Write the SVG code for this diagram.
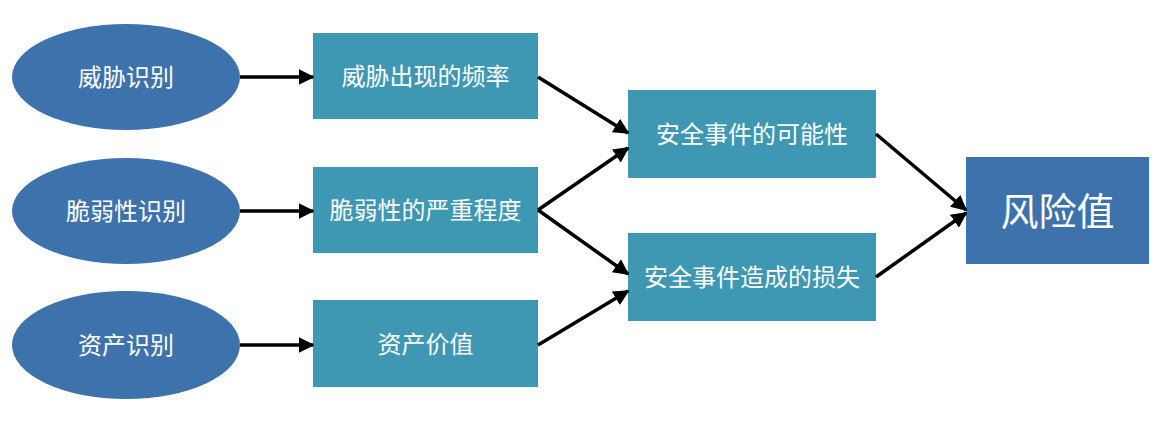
<svg xmlns="http://www.w3.org/2000/svg" width="1170" height="421" viewBox="0 0 1170 421">
<style>
.ell{fill:#3d72ad}
.box{fill:#3e98b3}
.fin{fill:#3d72ad}
.t{fill:#fff;font-family:"Noto Sans CJK SC","Liberation Sans",sans-serif;font-size:24px;text-anchor:middle;dominant-baseline:central}
.tb{font-size:38px}
.c line{stroke:#000;stroke-width:3.5;marker-end:url(#ah)}
</style>
<defs>
<marker id="ah" viewBox="0 0 10 10" refX="9" refY="5" markerWidth="4.5" markerHeight="4.5" orient="auto" markerUnits="strokeWidth">
<path d="M0,0 L10,5 L0,10 z" fill="#000"/>
</marker>
</defs>
<rect width="1170" height="421" fill="#fff"/>
<g id="n1"><ellipse class="ell" cx="126" cy="77" rx="114" ry="53"/><text class="t" x="126" y="75">威胁识别</text></g>
<g id="n2"><ellipse class="ell" cx="126" cy="211" rx="114" ry="53"/><text class="t" x="126" y="209">脆弱性识别</text></g>
<g id="n3"><ellipse class="ell" cx="126" cy="345" rx="114" ry="54"/><text class="t" x="126" y="343">资产识别</text></g>
<g id="n4"><rect class="box" x="313" y="33" width="225" height="86"/><text class="t" x="425.5" y="74">威胁出现的频率</text></g>
<g id="n5"><rect class="box" x="313" y="167" width="225" height="86"/><text class="t" x="425.5" y="208">脆弱性的严重程度</text></g>
<g id="n6"><rect class="box" x="313" y="300" width="225" height="87"/><text class="t" x="425.5" y="342">资产价值</text></g>
<g id="n7"><rect class="box" x="628" y="90" width="248" height="88"/><text class="t" x="752" y="132">安全事件的可能性</text></g>
<g id="n8"><rect class="box" x="628" y="233" width="248" height="88"/><text class="t" x="752" y="275">安全事件造成的损失</text></g>
<g id="n9"><rect class="fin" x="966" y="157" width="183" height="107"/><text class="t tb" x="1057.5" y="208">风险值</text></g>
<g class="c" id="connectors">
<line x1="240" y1="77" x2="313" y2="77"/>
<line x1="240" y1="211" x2="313" y2="211"/>
<line x1="240" y1="345" x2="313" y2="345"/>
<line x1="538" y1="77" x2="628" y2="133"/>
<line x1="538" y1="210" x2="628" y2="148"/>
<line x1="538" y1="210" x2="628" y2="274"/>
<line x1="538" y1="345" x2="628" y2="291"/>
<line x1="876" y1="134" x2="966" y2="210"/>
<line x1="876" y1="277" x2="966" y2="213"/>
</g>
</svg>
